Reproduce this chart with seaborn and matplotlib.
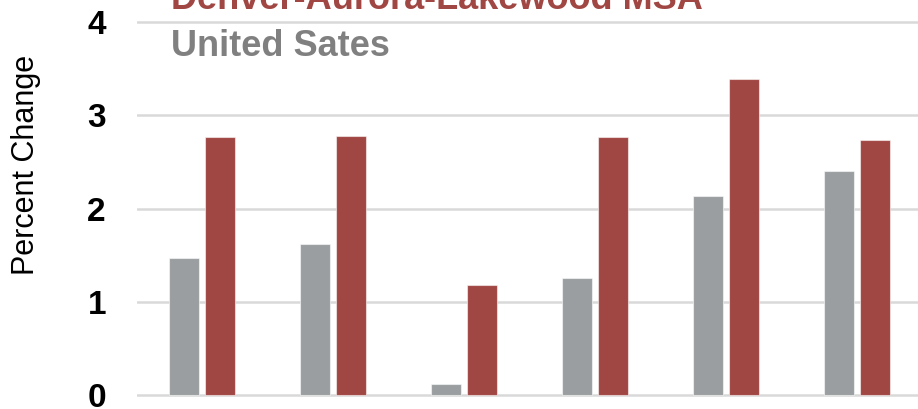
import matplotlib
matplotlib.use("Agg")
import matplotlib.pyplot as plt
import seaborn as sns
import pandas as pd

# ---- data ----
categories = ["Period 1", "Period 2", "Period 3", "Period 4", "Period 5", "Period 6"]
us_values = [1.47, 1.62, 0.12, 1.26, 2.13, 2.40]
denver_values = [2.77, 2.78, 1.18, 2.77, 3.39, 2.73]
series_names = ["United Sates", "Denver-Aurora-Lakewood MSA"]
y_ticks = [0, 1, 2, 3, 4]
y_label = "Percent Change"

colors = ["#9a9ea0", "#a04643"]
legend_colors = ["#808080", "#a04643"]

sns.set_style("white")
plt.rcParams["font.family"] = ["Liberation Sans", "DejaVu Sans"]

df = pd.DataFrame({
    "category": categories * 2,
    "series": [series_names[0]] * len(categories) + [series_names[1]] * len(categories),
    "value": us_values + denver_values,
})

W, H = 918, 409
fig = plt.figure(figsize=(W / 100, H / 100), dpi=100)
unit = 93.25  # px per y unit
ylo, yhi = -0.03, 4.05
ax = fig.add_axes([136.5 / W, (14 + ylo * unit) / H, 786 / W, (yhi - ylo) * unit / H])

sns.barplot(data=df, x="category", y="value", hue="series", hue_order=series_names,
            palette=colors, saturation=1, width=0.56, gap=0.19, ax=ax, legend=False,
            edgecolor=(1, 1, 1, 0.55), linewidth=0.8)

ax.set_xlim(-0.5, 5.5)
ax.set_ylim(ylo, yhi)
ax.set_yticks(y_ticks)
ax.set_yticklabels([str(t) for t in y_ticks], fontsize=24, fontweight="bold", color="black")
ax.yaxis.grid(True, color="#d9d9d9", linewidth=1.8)
ax.set_axisbelow(True)
for s in ax.spines.values():
    s.set_visible(False)
ax.tick_params(axis="y", length=0, pad=22)
ax.set_xticks([])
ax.set_xlabel("")
ax.set_ylabel("")

fig.text(26 / W, 1 - 165 / H, y_label, rotation=90, ha="center", va="center",
         fontsize=22, color="black")

fig.text(171 / W, 1 - 9 / H, series_names[1], color=legend_colors[1],
         fontsize=26, fontweight="bold", va="baseline", ha="left")
fig.text(171 / W, 1 - 56 / H, series_names[0], color=legend_colors[0],
         fontsize=26, fontweight="bold", va="baseline", ha="left")

fig.savefig("out.png", dpi=100)
